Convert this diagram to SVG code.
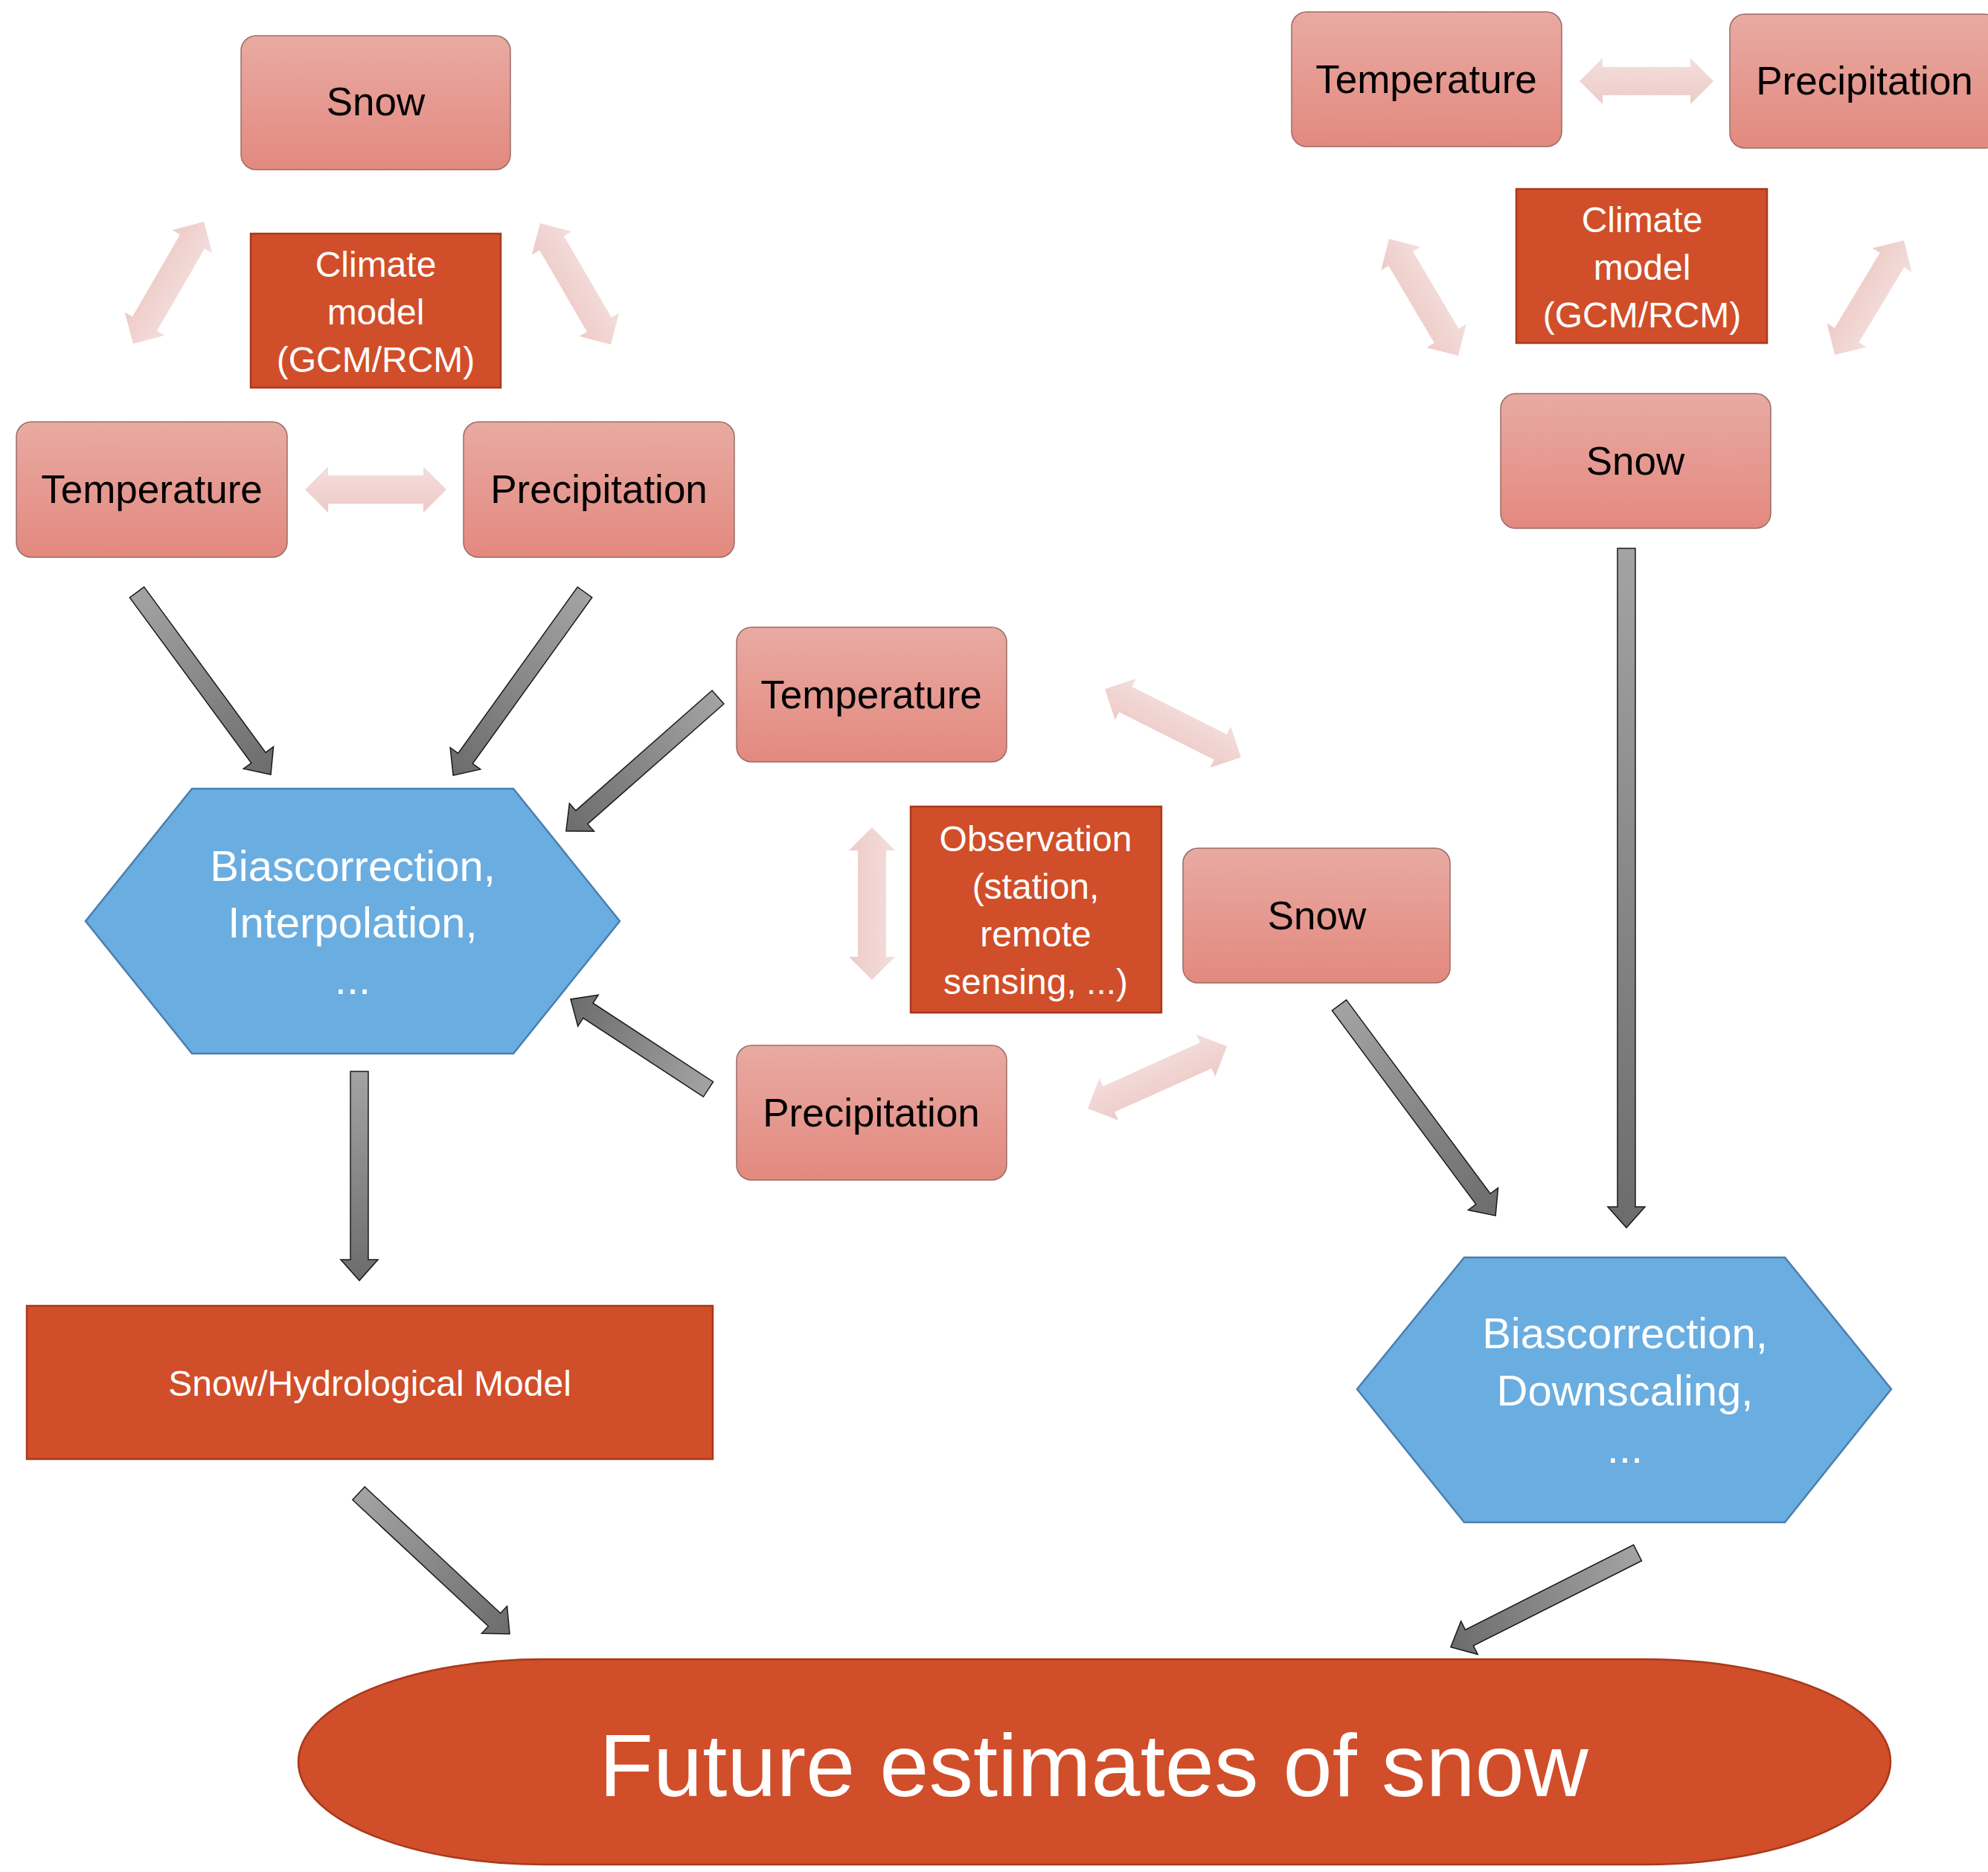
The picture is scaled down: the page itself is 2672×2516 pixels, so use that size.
<svg xmlns="http://www.w3.org/2000/svg" width="2672" height="2516" viewBox="0 0 2672 2516">
<defs>
<linearGradient id="pinkBox" x1="0" y1="0" x2="0" y2="1">
<stop offset="0" stop-color="#e8aaa2"/>
<stop offset="1" stop-color="#e3897f"/>
</linearGradient>
<linearGradient id="grayArrow" x1="0" y1="0" x2="1" y2="0">
<stop offset="0" stop-color="#a3a3a3"/>
<stop offset="1" stop-color="#6c6c6c"/>
</linearGradient>
<linearGradient id="pinkArrow" x1="0" y1="0" x2="0" y2="1">
<stop offset="0" stop-color="#f3dedc"/>
<stop offset="1" stop-color="#eecbc7"/>
</linearGradient>
</defs>
<style>
.pbox{fill:url(#pinkBox);stroke:#9a6c67;stroke-width:1.5}
.obox{fill:#d04e29;stroke:#a8391b;stroke-width:2.5}
.hex{fill:#6aade0;stroke:#4a7eb0;stroke-width:2.5}
.ga{fill:url(#grayArrow);stroke:#1a1a1a;stroke-width:1.5}
.pa{fill:url(#pinkArrow);stroke:none}
.lbl{font-family:"Liberation Sans",Arial,sans-serif;font-size:53px;fill:#000;text-anchor:middle}
.wl{font-family:"Liberation Sans",Arial,sans-serif;font-size:48px;fill:#fff;text-anchor:middle}
.hl{font-family:"Liberation Sans",Arial,sans-serif;font-size:58px;fill:#fff;text-anchor:middle}
.big{font-family:"Liberation Sans",Arial,sans-serif;font-size:119px;fill:#fff;text-anchor:middle}
</style>
<rect width="2672" height="2516" fill="#ffffff"/>

<g id="connectors">
<!-- pink double arrows -->
<path class="pa" transform="translate(274,298) rotate(120.1)" d="M0,0 L31,-31 L31,-19 L158.5,-19 L158.5,-31 L189.5,0 L158.5,31 L158.5,19 L31,19 L31,31 Z"/>
<path class="pa" transform="translate(726,300) rotate(59.8)" d="M0,0 L31,-31 L31,-19 L157.7,-19 L157.7,-31 L188.7,0 L157.7,31 L157.7,19 L31,19 L31,31 Z"/>
<path class="pa" transform="translate(410,658)" d="M0,0 L31,-31 L31,-19 L159,-19 L159,-31 L190,0 L159,31 L159,19 L31,19 L31,31 Z"/>
<path class="pa" transform="translate(2123,109)" d="M0,0 L31,-31 L31,-19 L149,-19 L149,-31 L180,0 L149,31 L149,19 L31,19 L31,31 Z"/>
<path class="pa" transform="translate(1867,321) rotate(59.4)" d="M0,0 L31,-31 L31,-19 L151.5,-19 L151.5,-31 L182.5,0 L151.5,31 L151.5,19 L31,19 L31,31 Z"/>
<path class="pa" transform="translate(2559,323) rotate(121.1)" d="M0,0 L31,-31 L31,-19 L148.9,-19 L148.9,-31 L179.9,0 L148.9,31 L148.9,19 L31,19 L31,31 Z"/>
<path class="pa" transform="translate(1172,1112) rotate(90)" d="M0,0 L31,-31 L31,-19 L174,-19 L174,-31 L205,0 L174,31 L174,19 L31,19 L31,31 Z"/>
<path class="pa" transform="translate(1485,926) rotate(26.7)" d="M0,0 L31,-31 L31,-19 L173.8,-19 L173.8,-31 L204.8,0 L173.8,31 L173.8,19 L31,19 L31,31 Z"/>
<path class="pa" transform="translate(1462,1490) rotate(-24.2)" d="M0,0 L31,-31 L31,-19 L174,-19 L174,-31 L205,0 L174,31 L174,19 L31,19 L31,31 Z"/>
<!-- gray arrows -->
<path class="ga" transform="translate(184,796) rotate(53.7)" d="M0,-12 L276,-12 L276,-25 L304,0 L276,25 L276,12 L0,12 Z"/>
<path class="ga" transform="translate(786,796) rotate(125.7)" d="M0,-12 L275.1,-12 L275.1,-25 L303.1,0 L275.1,25 L275.1,12 L0,12 Z"/>
<path class="ga" transform="translate(965,937) rotate(138.6)" d="M0,-12 L244.1,-12 L244.1,-25 L272.1,0 L244.1,25 L244.1,12 L0,12 Z"/>
<path class="ga" transform="translate(952,1464) rotate(213.2)" d="M0,-12 L193.1,-12 L193.1,-25 L221.1,0 L193.1,25 L193.1,12 L0,12 Z"/>
<path class="ga" transform="translate(483,1440) rotate(90)" d="M0,-12 L253,-12 L253,-25 L281,0 L253,25 L253,12 L0,12 Z"/>
<path class="ga" transform="translate(1800,1351) rotate(53.4)" d="M0,-12 L324.4,-12 L324.4,-25 L352.4,0 L324.4,25 L324.4,12 L0,12 Z"/>
<path class="ga" transform="translate(2186,737) rotate(90)" d="M0,-12 L885,-12 L885,-25 L913,0 L885,25 L885,12 L0,12 Z"/>
<path class="ga" transform="translate(482,2007) rotate(42.96)" d="M0,-12 L249.4,-12 L249.4,-25 L277.4,0 L249.4,25 L249.4,12 L0,12 Z"/>
<path class="ga" transform="translate(2201,2087) rotate(153.2)" d="M0,-12 L253.3,-12 L253.3,-25 L281.3,0 L253.3,25 L253.3,12 L0,12 Z"/>
</g>

<!-- Left cluster -->
<g id="left-snow">
<rect class="pbox" x="324" y="48" width="362" height="180" rx="20"/>
<text class="lbl" x="505" y="155">Snow</text>
</g>
<g id="left-climate-model">
<rect class="obox" x="337" y="314" width="336" height="207"/>
<text class="wl" x="505" y="372">Climate</text>
<text class="wl" x="505" y="436">model</text>
<text class="wl" x="505" y="500">(GCM/RCM)</text>
</g>
<g id="left-temperature">
<rect class="pbox" x="22" y="567" width="364" height="182" rx="20"/>
<text class="lbl" x="204" y="676">Temperature</text>
</g>
<g id="left-precipitation">
<rect class="pbox" x="623" y="567" width="364" height="182" rx="20"/>
<text class="lbl" x="805" y="676">Precipitation</text>
</g>

<!-- Right cluster -->
<g id="right-temperature">
<rect class="pbox" x="1736" y="16" width="363" height="181" rx="20"/>
<text class="lbl" x="1917" y="125">Temperature</text>
</g>
<g id="right-precipitation">
<rect class="pbox" x="2325" y="19" width="362" height="180" rx="20"/>
<text class="lbl" x="2506" y="127">Precipitation</text>
</g>
<g id="right-climate-model">
<rect class="obox" x="2038" y="254" width="337" height="207"/>
<text class="wl" x="2207" y="312">Climate</text>
<text class="wl" x="2207" y="376">model</text>
<text class="wl" x="2207" y="440">(GCM/RCM)</text>
</g>
<g id="right-snow">
<rect class="pbox" x="2017" y="529" width="363" height="181" rx="20"/>
<text class="lbl" x="2198" y="638">Snow</text>
</g>

<!-- Middle cluster -->
<g id="mid-temperature">
<rect class="pbox" x="990" y="843" width="363" height="181" rx="20"/>
<text class="lbl" x="1171" y="952">Temperature</text>
</g>
<g id="observation">
<rect class="obox" x="1224" y="1084" width="337" height="277"/>
<text class="wl" x="1392" y="1144">Observation</text>
<text class="wl" x="1392" y="1208">(station,</text>
<text class="wl" x="1392" y="1272">remote</text>
<text class="wl" x="1392" y="1336">sensing, ...)</text>
</g>
<g id="mid-snow">
<rect class="pbox" x="1590" y="1140" width="359" height="181" rx="20"/>
<text class="lbl" x="1770" y="1249">Snow</text>
</g>
<g id="mid-precipitation">
<rect class="pbox" x="990" y="1405" width="363" height="181" rx="20"/>
<text class="lbl" x="1171" y="1514">Precipitation</text>
</g>

<!-- Processing -->
<g id="hex-interpolation">
<polygon class="hex" points="258,1060 690,1060 833,1238 690,1416 258,1416 115,1238"/>
<text class="hl" x="474" y="1184">Biascorrection,</text>
<text class="hl" x="474" y="1260">Interpolation,</text>
<text class="hl" x="474" y="1336">...</text>
</g>
<g id="hex-downscaling">
<polygon class="hex" points="1968,1690 2399,1690 2542,1867 2399,2046 1968,2046 1824,1867"/>
<text class="hl" x="2184" y="1812">Biascorrection,</text>
<text class="hl" x="2184" y="1889">Downscaling,</text>
<text class="hl" x="2184" y="1966">...</text>
</g>
<g id="hydro-model">
<rect class="obox" x="36" y="1755" width="922" height="206"/>
<text class="wl" x="497" y="1876">Snow/Hydrological Model</text>
</g>
<g id="future-estimates">
<rect x="401" y="2230" width="2140" height="276" rx="330" ry="138" fill="#d04e29" stroke="#a8391b" stroke-width="2.5"/>
<text class="big" x="1470" y="2414">Future estimates of snow</text>
</g>
</svg>
